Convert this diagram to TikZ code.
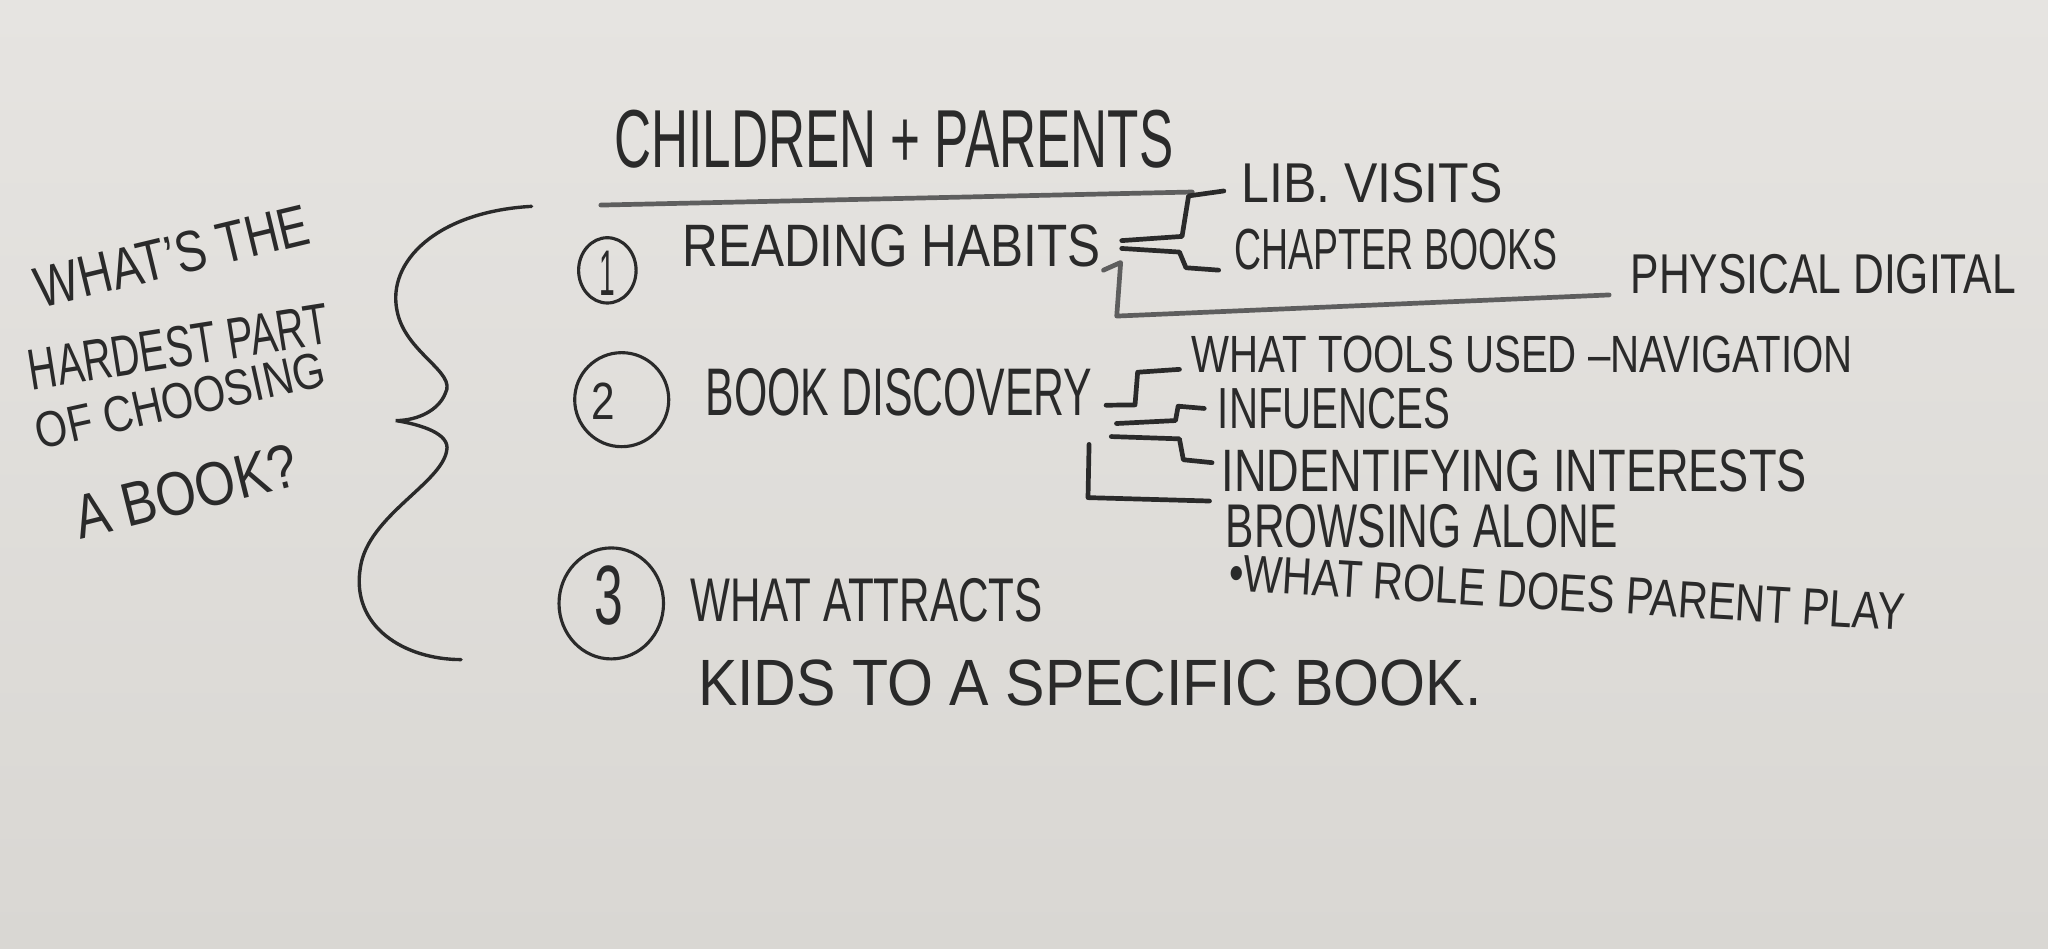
\documentclass[tikz,border=0pt]{standalone}
\usepackage{fontspec}
\setmainfont{Liberation Sans}
\usepackage{graphicx}
\usetikzlibrary{shapes.geometric}
\newlength{\unitpx}\setlength{\unitpx}{0.5pt}
\newcommand{\hw}[3]{\resizebox{#1\unitpx}{#2\unitpx}{#3}}
\definecolor{ink}{HTML}{2A2A2A}
\definecolor{inklight}{HTML}{5E5E5E}
\definecolor{bgtop}{HTML}{E6E4E1}
\definecolor{bgbot}{HTML}{D9D7D3}
\begin{document}
\begin{tikzpicture}[x=0.5pt,y=-0.5pt,
  txt/.style={inner sep=0pt, anchor=base west, text=ink, font=\fontsize{20}{24}\selectfont},
  mk/.style={draw=ink, line width=1.8pt, line cap=round, line join=round},
  mkl/.style={draw=inklight, line width=1.8pt, line cap=round, line join=round},
  bracestroke/.style={draw=ink, line width=1.3pt, line cap=round},
  ring/.style={draw=ink, ellipse, line width=1.2pt, inner sep=0pt},
]
\shade[top color=bgtop, bottom color=bgbot] (0,0) rectangle (1568,726);
\useasboundingbox (0,0) rectangle (1568,726);

% question on the left
\node[txt, rotate=13.5] (q1) at (31,236) {\hw{214}{31}{WHAT'S THE}};
\node[txt, rotate=9] (q2) at (24,299) {\hw{232}{31}{HARDEST PART}};
\node[txt, rotate=12.5] (q3) at (30,344) {\hw{226}{27}{OF CHOOSING}};
\node[txt, rotate=14] (q4) at (61,413) {\hw{175}{33}{A BOOK?}};

% curly brace
\draw[bracestroke] (407,158) .. controls (335,162) and (296,200) .. (304,238)
  .. controls (310,270) and (350,285) .. (341,301)
  .. controls (336,314) and (320,322) .. (303,322)
  .. controls (322,325) and (345,332) .. (342,345)
  .. controls (338,370) and (282,395) .. (276,434)
  .. controls (268,480) and (310,505) .. (353,505);

% title
\node[txt] (title) at (470,128) {\hw{428}{44}{CHILDREN + PARENTS}};
\draw[mkl] ([xshift=-5pt,yshift=-14pt]title.south west) -- ([xshift=7pt,yshift=-9pt]title.south east);

% numbered circles
\node[ring, minimum width=22pt, minimum height=25pt] (c1) at (465,207) {};
\node[txt, anchor=center] (n1) at (465,209) {\hw{12}{34}{1}};
\node[ring, minimum width=36pt, minimum height=36pt] (c2) at (476,306) {};
\node[txt, anchor=center] (n2) at (462,307) {\hw{18}{28}{2}};
\node[ring, minimum width=40pt, minimum height=42.5pt] (c3) at (468,462) {};
\node[txt, anchor=center] (n3) at (466,456) {\hw{22}{45}{3}};

% section 1
\node[txt] (rh) at (522,204) {\hw{320}{32}{READING HABITS}};
\node[txt] (lib) at (950,155) {\hw{200}{30}{LIB. VISITS}};
\node[txt] (chap) at (945,206) {\hw{247}{31}{CHAPTER BOOKS}};
\node[txt] (phys) at (1248,225) {\hw{295}{30}{PHYSICAL DIGITAL}};

\draw[mk] ([xshift=8pt,yshift=2pt]rh.east) -- (905,181) -- (910,150) -- ([xshift=-6.5pt,yshift=-3pt]lib.west);
\draw[mk] ([xshift=8pt,yshift=-1pt]rh.east) -- (903,193) -- (908,205) -- ([xshift=-6pt]chap.south west);
\draw[mkl] ([xshift=1pt,yshift=-1pt]rh.south east) -- (858,201) -- (855,242) -- ([xshift=-8pt]phys.south west);

% section 2
\node[txt] (bd) at (540,318) {\hw{296}{36}{BOOK DISCOVERY}};
\node[txt] (tools) at (912,285) {\hw{506}{28}{WHAT TOOLS USED –NAVIGATION}};
\node[txt] (inf) at (932,328) {\hw{178}{31}{INFUENCES}};
\node[txt] (int) at (935,376) {\hw{448}{32}{INDENTIFYING INTERESTS}};
\node[txt] (br) at (938,419) {\hw{300}{33}{BROWSING ALONE}};
\node[txt, rotate=-3.4] (role) at (940,452) {\hw{518}{28}{•WHAT ROLE DOES PARENT PLAY}};

\draw[mk] ([xshift=5pt,yshift=-5pt]bd.east) -- (869,310) -- (871,285) -- ([xshift=-4.5pt,yshift=1.5pt]tools.south west);
\draw[mk] ([xshift=9pt,yshift=-12pt]bd.east) -- (900,322) -- (902,311) -- ([xshift=-5pt]inf.west);
\draw[mk] ([xshift=7pt,yshift=-17pt]bd.east) -- (903,336) -- (906,352) -- ([xshift=-3.5pt,yshift=3pt]int.west);
\draw[mk] ([xshift=-1.5pt,yshift=-20pt]bd.east) -- (833,381) -- ([xshift=-6pt,yshift=1pt]br.north west);

% section 3
\node[txt] (wa) at (528,476) {\hw{270}{33}{WHAT ATTRACTS}};
\node[txt] (kids) at (534,540) {\hw{600}{35}{KIDS TO A SPECIFIC BOOK.}};
\end{tikzpicture}
\end{document}
